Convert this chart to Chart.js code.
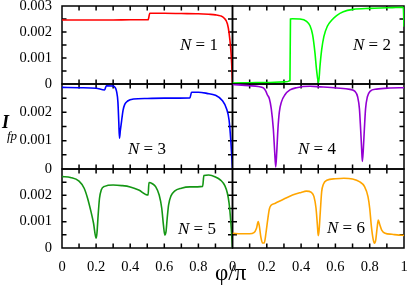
<!DOCTYPE html>
<html>
<head>
<meta charset="utf-8">
<script src="https://cdn.jsdelivr.net/npm/chart.js@4.4.1/dist/chart.umd.min.js"></script>
<style>
  body { margin: 0; background: #fff; }
  #wrap { position: relative; width: 409px; height: 286px; overflow: hidden; font-family: 'Liberation Serif', 'DejaVu Serif', serif; color: #000; }
  canvas { position: absolute; left: 0; top: 0; }
  .lab { position: absolute; font-size: 17px; line-height: 17px; white-space: nowrap; }
</style>
</head>
<body>
<div id="wrap">
  <canvas id="c1" width="409" height="286"></canvas>
  <canvas id="c2" width="409" height="286"></canvas>
  <canvas id="c3" width="409" height="286"></canvas>
  <canvas id="c4" width="409" height="286"></canvas>
  <canvas id="c5" width="409" height="286"></canvas>
  <canvas id="c6" width="409" height="286"></canvas>
  <div class="lab" style="left:180px;top:36px"><i>N</i> = 1</div>
  <div class="lab" style="left:353px;top:36px"><i>N</i> = 2</div>
  <div class="lab" style="left:128px;top:140px"><i>N</i> = 3</div>
  <div class="lab" style="left:298px;top:140px"><i>N</i> = 4</div>
  <div class="lab" style="left:178px;top:220px"><i>N</i> = 5</div>
  <div class="lab" style="left:327px;top:219px"><i>N</i> = 6</div>
  <div class="lab" style="left:2px;top:114px;font-size:18px;font-weight:bold;font-style:italic">I</div>
  <div class="lab" style="left:7px;top:129px;font-size:13px;line-height:13px;font-style:italic">fp</div>
  <div class="lab" style="left:215px;top:261px;font-size:23px;line-height:23px">φ/π</div>
</div>
<script>
// phi/pi grid and I_fp values, one pair per N
var phi1 = [0, 0.1, 0.2, 0.3, 0.4, 0.505, 0.515, 0.6, 0.7, 0.8, 0.86, 0.9, 0.93, 0.95, 0.97, 0.98, 0.99, 0.995, 1];
var ifp1 = [0.00246, 0.00246, 0.00246, 0.00246, 0.00247, 0.00247, 0.00272, 0.00272, 0.00271, 0.0027, 0.00268, 0.00266, 0.00262, 0.00254, 0.00232, 0.00196, 0.00132, 0.0008, 0];

var phi2 = [0, 0.1, 0.2, 0.3, 0.335, 0.338, 0.35, 0.39, 0.432, 0.452, 0.467, 0.481, 0.49, 0.502, 0.51, 0.52, 0.533, 0.553, 0.578, 0.607, 0.646, 0.704, 0.8, 0.9, 0.996, 1];
var ifp2 = [0.00004, 0.00005, 0.00006, 0.00008, 0.00013, 0.0025, 0.00251, 0.0025, 0.00241, 0.00224, 0.0019, 0.00119, 0.00055, 0.00004, 0.00068, 0.00132, 0.00183, 0.00222, 0.00245, 0.00263, 0.00278, 0.00287, 0.00291, 0.00293, 0.00295, 0.0022];

var phi3 = [0, 0.1, 0.2, 0.25, 0.26, 0.3, 0.31, 0.32, 0.328, 0.333, 0.337, 0.342, 0.35, 0.358, 0.368, 0.385, 0.42, 0.5, 0.6, 0.75, 0.76, 0.8, 0.85, 0.9, 0.94, 0.965, 0.98, 0.99, 1];
var ifp3 = [0.00288, 0.00287, 0.00285, 0.00279, 0.00294, 0.00293, 0.00289, 0.00274, 0.00236, 0.00166, 0.00109, 0.00135, 0.00172, 0.00207, 0.00228, 0.0024, 0.00247, 0.00249, 0.0025, 0.00251, 0.00271, 0.00271, 0.00267, 0.0026, 0.00242, 0.00213, 0.00172, 0.00101, 0];

var phi4 = [0, 0.1, 0.15, 0.18, 0.195, 0.203, 0.215, 0.226, 0.238, 0.246, 0.252, 0.258, 0.265, 0.273, 0.285, 0.306, 0.335, 0.374, 0.452, 0.51, 0.607, 0.685, 0.714, 0.73, 0.74, 0.747, 0.753, 0.757, 0.763, 0.769, 0.776, 0.786, 0.802, 0.84, 0.918, 1];
var ifp4 = [0.00298, 0.00294, 0.00291, 0.00286, 0.00274, 0.00262, 0.00248, 0.00213, 0.00142, 0.0006, 0.00007, 0.0006, 0.00142, 0.00201, 0.00236, 0.00262, 0.00279, 0.00287, 0.00292, 0.0029, 0.00286, 0.00281, 0.00274, 0.00254, 0.00213, 0.00142, 0.00072, 0.00027, 0.00072, 0.00142, 0.00213, 0.00254, 0.00274, 0.00282, 0.00286, 0.00287];

var phi5 = [0, 0.05, 0.1, 0.13, 0.15, 0.17, 0.185, 0.2, 0.205, 0.212, 0.22, 0.23, 0.25, 0.3, 0.35, 0.4, 0.45, 0.505, 0.51, 0.53, 0.55, 0.57, 0.585, 0.595, 0.603, 0.61, 0.617, 0.625, 0.64, 0.66, 0.7, 0.75, 0.825, 0.832, 0.86, 0.9, 0.93, 0.955, 0.97, 0.98, 0.99, 1];
var ifp5 = [0.00271, 0.00268, 0.00254, 0.00227, 0.00189, 0.00138, 0.00094, 0.00037, 0.00056, 0.00125, 0.00189, 0.0022, 0.00234, 0.00239, 0.00237, 0.00232, 0.0022, 0.00201, 0.00249, 0.00244, 0.00232, 0.00201, 0.00151, 0.00087, 0.00049, 0.00062, 0.00113, 0.00163, 0.00199, 0.00216, 0.00227, 0.00232, 0.00234, 0.00275, 0.00277, 0.0027, 0.00258, 0.00237, 0.00208, 0.0017, 0.001, 0];

var phi6 = [0, 0.05, 0.1, 0.125, 0.14, 0.15, 0.157, 0.165, 0.175, 0.185, 0.195, 0.205, 0.215, 0.225, 0.25, 0.3, 0.35, 0.4, 0.43, 0.46, 0.475, 0.487, 0.495, 0.5, 0.505, 0.512, 0.52, 0.53, 0.55, 0.6, 0.65, 0.7, 0.74, 0.77, 0.79, 0.8, 0.81, 0.82, 0.828, 0.835, 0.843, 0.85, 0.858, 0.87, 0.89, 0.93, 0.97, 1];
var ifp6 = [0.00056, 0.00054, 0.00054, 0.00058, 0.00075, 0.001, 0.00081, 0.00043, 0.00019, 0.00019, 0.00056, 0.00106, 0.00148, 0.00162, 0.0017, 0.00186, 0.00201, 0.00211, 0.00216, 0.00211, 0.00195, 0.00151, 0.00087, 0.00047, 0.00068, 0.00138, 0.00214, 0.00242, 0.00257, 0.00263, 0.00265, 0.00262, 0.00252, 0.00233, 0.00195, 0.00151, 0.00081, 0.00034, 0.00018, 0.0003, 0.00075, 0.00106, 0.0009, 0.00068, 0.00056, 0.00052, 0.00049, 0.00048];

var xTicks = [0.1, 0.2, 0.3, 0.4, 0.5, 0.6, 0.7, 0.8, 0.9];
var yTicks = [0.0005, 0.001, 0.0015, 0.002, 0.0025];

var fontFam = "'Liberation Serif', 'DejaVu Serif', serif";

// frame + inward ticks on all four sides
const frame = {
  id: 'frame',
  beforeDatasetsDraw(chart) {
    const ctx = chart.ctx, a = chart.chartArea;
    const x = chart.scales.x, y = chart.scales.y;
    const t = 4.5;
    ctx.save();
    ctx.strokeStyle = '#000';
    ctx.lineWidth = 1.5;
    ctx.strokeRect(a.left, a.top, a.right - a.left, a.bottom - a.top);
    ctx.beginPath();
    xTicks.forEach(v => {
      const px = x.getPixelForValue(v);
      ctx.moveTo(px, a.bottom); ctx.lineTo(px, a.bottom - t);
      ctx.moveTo(px, a.top); ctx.lineTo(px, a.top + t);
    });
    yTicks.forEach(v => {
      const py = y.getPixelForValue(v);
      ctx.moveTo(a.left, py); ctx.lineTo(a.left + t, py);
      ctx.moveTo(a.right, py); ctx.lineTo(a.right - t, py);
    });
    ctx.stroke();
    ctx.restore();
  }
};

function makeChart(id, phi, vals, color, box, opt) {
  // axes with labels take the whole margin, the others take none
  const yW = opt.yLab ? box[0] : 0;
  const xH = opt.xLab ? 286 - box[3] : 0;
  const fit = function(s) {
    if (s.isHorizontal()) s.height = xH; else s.width = yW;
    s.paddingTop = 0; s.paddingBottom = 0; s.paddingLeft = 0; s.paddingRight = 0;
  };
  new Chart(document.getElementById(id), {
    type: 'line',
    data: {
      datasets: [{
        data: phi.map((p, i) => ({x: p, y: vals[i]})),
        borderColor: color,
        borderWidth: 1.6,
        pointRadius: 0,
        fill: false,
        cubicInterpolationMode: 'monotone'
      }]
    },
    options: {
      responsive: false,
      animation: false,
      devicePixelRatio: 1,
      layout: {padding: {left: box[0] - yW, right: 409 - box[1], top: box[2], bottom: 286 - box[3] - xH}},
      plugins: {legend: {display: false}, tooltip: {enabled: false}},
      scales: {
        x: {
          type: 'linear', min: 0, max: 1,
          grid: {display: false}, border: {display: false},
          afterFit: fit,
          ticks: {
            display: opt.xLab, stepSize: 0.1, autoSkip: false, maxRotation: 0, padding: 2,
            color: '#000', font: {family: fontFam, size: 14.5},
            callback: function(v) {
              const k = Math.round(v * 10);
              if (k % 2) return '';
              if (k === 10 && !opt.xEnd) return '';
              return k === 0 ? '0' : k === 10 ? '1' : (k / 10).toString();
            }
          }
        },
        y: {
          type: 'linear', min: 0, max: 0.003,
          grid: {display: false}, border: {display: false},
          afterFit: fit,
          ticks: {
            display: opt.yLab, stepSize: 0.0005, autoSkip: false, padding: 2,
            color: '#000', font: {family: fontFam, size: 14.5},
            callback: function(v) {
              const k = Math.round(v * 2000);
              if (k % 2) return '';
              if (k === 6 && !opt.yTop) return '';
              return k === 0 ? '0' : (k / 2000).toFixed(3);
            }
          }
        }
      }
    },
    plugins: [frame]
  });
}

var colL = [62, 232.5], colR = [232.5, 404];
var row1 = [6, 84], row2 = [84, 169], row3 = [169, 248];

makeChart('c1', phi1, ifp1, '#ff0000', colL.concat(row1), {yLab: true, yTop: true, xLab: false});
makeChart('c2', phi2, ifp2, '#00ff00', colR.concat(row1), {yLab: false, xLab: false});
makeChart('c3', phi3, ifp3, '#0000ff', colL.concat(row2), {yLab: true, xLab: false});
makeChart('c4', phi4, ifp4, '#9400d3', colR.concat(row2), {yLab: false, xLab: false});
makeChart('c5', phi5, ifp5, '#149614', colL.concat(row3), {yLab: true, xLab: true, xEnd: false});
makeChart('c6', phi6, ifp6, '#ffa500', colR.concat(row3), {yLab: false, xLab: true, xEnd: true});
</script>
</body>
</html>
